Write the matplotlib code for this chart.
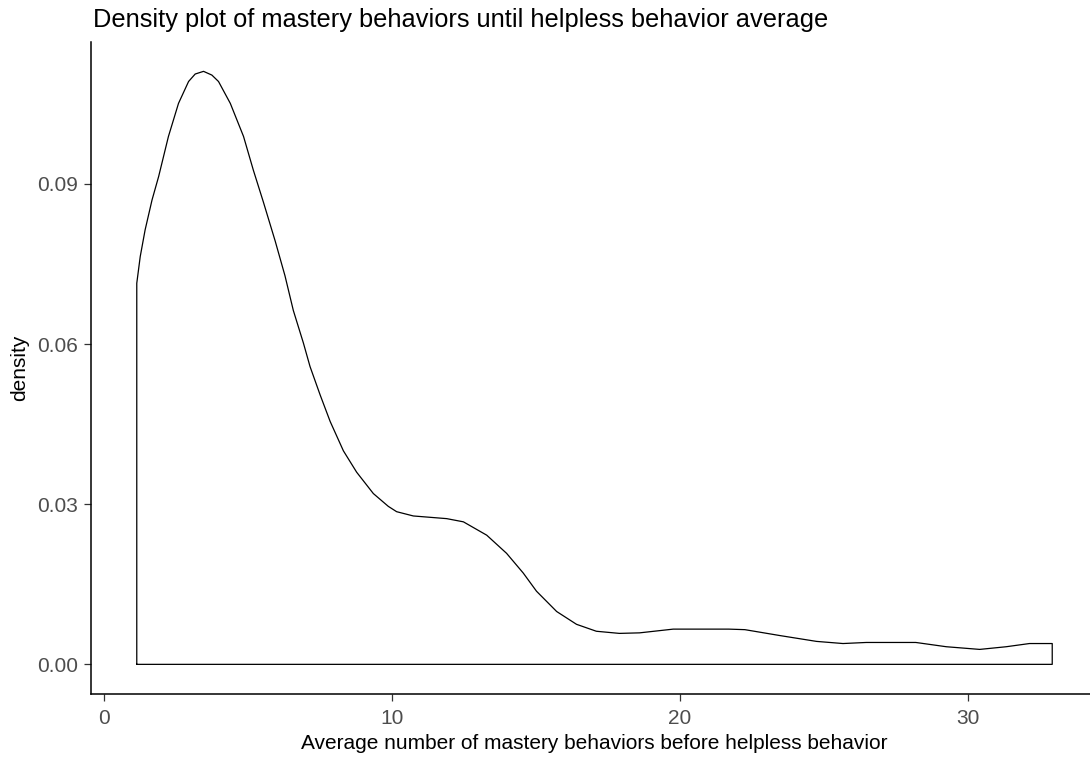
import matplotlib
matplotlib.use("Agg")
import matplotlib.pyplot as plt
import numpy as np

plt.rcParams['font.family'] = ['Liberation Sans', 'DejaVu Sans']

title = "Density plot of mastery behaviors until helpless behavior average"
x_label = "Average number of mastery behaviors before helpless behavior"
y_label = "density"

mastery_avg = [1.13, 1.25, 1.42, 1.66, 1.89, 2.23, 2.58, 2.93, 3.16, 3.45, 3.74, 3.97,
               4.38, 4.84, 5.18, 5.53, 5.94, 6.28, 6.57, 6.92, 7.15, 7.5, 7.85, 8.31,
               8.77, 9.35, 9.87, 10.16, 10.74, 11.9, 12.48, 13.29, 13.98, 14.56,
               15.02, 15.72, 16.41, 17.1, 17.9, 18.6, 19.77, 20.7, 21.7, 22.26,
               23.47, 24.75, 25.67, 26.48, 28.2, 29.26, 30.42, 31.34, 32.15, 32.94]
density = [0.0714, 0.0764, 0.0814, 0.0870, 0.0914, 0.0989, 0.1051, 0.1092, 0.1106,
           0.1111, 0.1104, 0.1092, 0.1051, 0.0989, 0.0926, 0.0866, 0.0793, 0.0728,
           0.0663, 0.0602, 0.0558, 0.0505, 0.0455, 0.0400, 0.0360, 0.0320, 0.0296,
           0.0286, 0.0278, 0.0273, 0.0267, 0.0242, 0.0208, 0.0171, 0.0137, 0.0099,
           0.0075, 0.0062, 0.0058, 0.0059, 0.0066, 0.0066, 0.0066, 0.0065, 0.0054,
           0.0043, 0.0039, 0.0041, 0.0041, 0.0033, 0.0028, 0.0033, 0.0039, 0.0039]
x_ticks = [0, 10, 20, 30]
y_ticks = [0.00, 0.03, 0.06, 0.09]
y_tick_labels = ["0.00", "0.03", "0.06", "0.09"]

W, H = 1090, 761
fig = plt.figure(figsize=(W / 100, H / 100), dpi=100)
ax = fig.add_axes([91 / W, (H - 694) / H, (1098 - 91) / W, (694 - 41.7) / H])

xs = np.array(mastery_avg)
ys = np.array(density)
px = np.concatenate([[xs[0]], xs, [xs[-1], xs[0]]])
py = np.concatenate([[0.0], ys, [0.0, 0.0]])
ax.plot(px, py, color='black', lw=0.9, solid_joinstyle='round')

span = xs[-1] - xs[0]
ax.set_xlim(xs[0] - 0.05 * span, xs[-1] + 0.05 * span)
ymax = ys.max()
ax.set_ylim(-0.05 * ymax, ymax * 1.05)

ax.set_xticks(x_ticks)
ax.set_yticks(y_ticks)
ax.set_yticklabels(y_tick_labels)
for s in ['top', 'right']:
    ax.spines[s].set_visible(False)
for s in ['left', 'bottom']:
    ax.spines[s].set_linewidth(1.1)
    ax.spines[s].set_color('black')
ax.tick_params(axis='both', length=5, width=0.9, color='#333333',
               labelsize=15, labelcolor='#4d4d4d')
ax.tick_params(axis='x', pad=6)
ax.tick_params(axis='y', pad=4)

ax.set_xlabel(x_label, fontsize=15, color='black', labelpad=4)
ax.set_ylabel(y_label, fontsize=15, color='black', labelpad=6)
fig.text(93 / W, 1 - 27 / H, title, fontsize=18.3, color='black', ha='left', va='baseline')

fig.savefig("out.png", dpi=100)
